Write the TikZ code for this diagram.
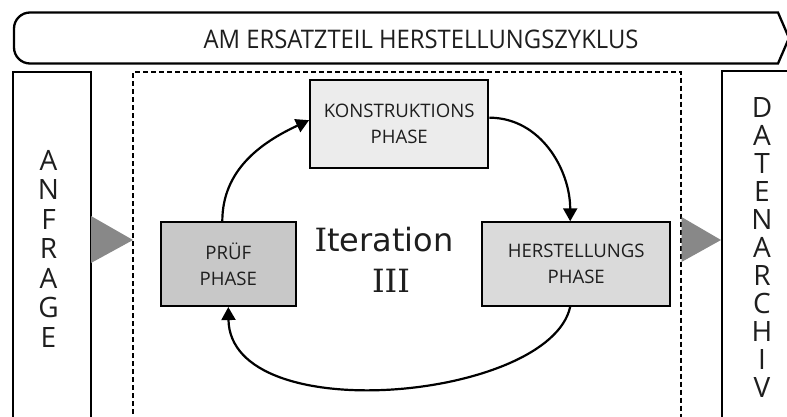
\documentclass[tikz,border=0pt]{standalone}
\usepackage{fontspec}
\setmainfont{Open Sans}
\newfontfamily\verd{DejaVu Sans}
\newfontfamily\verdserif{DejaVu Serif}
\newfontfamily\bannerfont[FakeStretch=0.93]{Open Sans}
\usetikzlibrary{arrows.meta}
\definecolor{txt}{HTML}{1E1E1E}
\definecolor{fillA}{HTML}{ECECEC}
\definecolor{fillB}{HTML}{C8C8C8}
\definecolor{fillC}{HTML}{DADADA}
\definecolor{tri}{HTML}{888888}
\tikzset{
  phasebox/.style={draw=black, line width=2pt, text=txt, align=center,
    font=\fontsize{18.6}{26}\selectfont, inner sep=0pt},
  frame/.style={draw=black, line width=2pt},
  vtext/.style={text=txt, align=center, inner sep=0pt},
  flow/.style={line width=2.2pt, -{Triangle[length=13pt,width=14pt]}},
}
\newcommand{\serifI}{{\verdserif I}}
\begin{document}
\begin{tikzpicture}[x=1pt,y=1pt]
\useasboundingbox (0,0) rectangle (787,-417);
\clip (0,0) rectangle (787,-417);
\fill[white] (0,0) rectangle (787,-417);
% banner
\draw[line width=2.3pt] (778,-12.5) -- (30,-12.5) arc[start angle=90,end angle=180,radius=16]
  -- (14,-47.5) arc[start angle=180,end angle=270,radius=16] -- (778,-63.5) -- (789,-38) -- cycle;
\node[text=txt, font=\bannerfont\fontsize{25.6}{30}\selectfont, inner sep=0pt] (title) at (421,-39) {AM ERSATZTEIL HERSTELLUNGSZYKLUS};
% side boxes
\draw[frame] (13.3,-430) -- (13.3,-71.7) -- (90.7,-71.7) -- (90.7,-430);
\draw[frame] (800,-71) -- (721.5,-71) -- (721.5,-430);
\draw[line width=1.7pt, dash pattern=on 5pt off 3pt] (133.3,-430) -- (133.3,-71.7) -- (681,-71.7) -- (681,-430);
\node[vtext, font=\fontsize{28}{29.5}\selectfont] (anfrage) at (48.5,-248.5) {A\\N\\F\\R\\A\\G\\E};
\node[vtext, font=\fontsize{28}{28}\selectfont] (datenarchiv) at (762,-247.5) {D\\A\\T\\E\\N\\A\\R\\C\\H\\I\\V};
% triangles
\fill[tri] (91,-216) -- (133,-240) -- (91,-263) -- cycle;
\fill[tri] (681.5,-217) -- (721,-240) -- (681.5,-262) -- cycle;
% phase boxes
\node[phasebox, fill=fillA, minimum width=178.3pt, minimum height=88.3pt] (konst) at (399.2,-124.2) {KONSTRUKTIONS\\PHASE};
\node[phasebox, fill=fillB, minimum width=135.3pt, minimum height=83.7pt] (pruef) at (228.3,-264.2) {PRÜF\\PHASE};
\node[phasebox, fill=fillC, minimum width=187.6pt, minimum height=83.4pt] (herst) at (576.2,-264) {HERSTELLUNGS\\PHASE};
% iteration label
\node[text=txt, align=center, inner sep=0pt, font=\verd\fontsize{32}{41}\selectfont] (iter) at (384,-260) {\serifI teration\\\hspace*{14pt}\serifI\serifI\serifI};
% connectors
\draw[flow] ([xshift=-6pt]pruef.north) to[out=90,in=205] ([yshift=4pt]konst.west);
\draw[flow] ([yshift=6.5pt]konst.east) to[out=0,in=90] ([xshift=-6pt]herst.north);
\draw[flow] ([xshift=-6pt]herst.south) .. controls (550,-400) and (230,-430) .. (pruef.south);
\end{tikzpicture}
\end{document}
